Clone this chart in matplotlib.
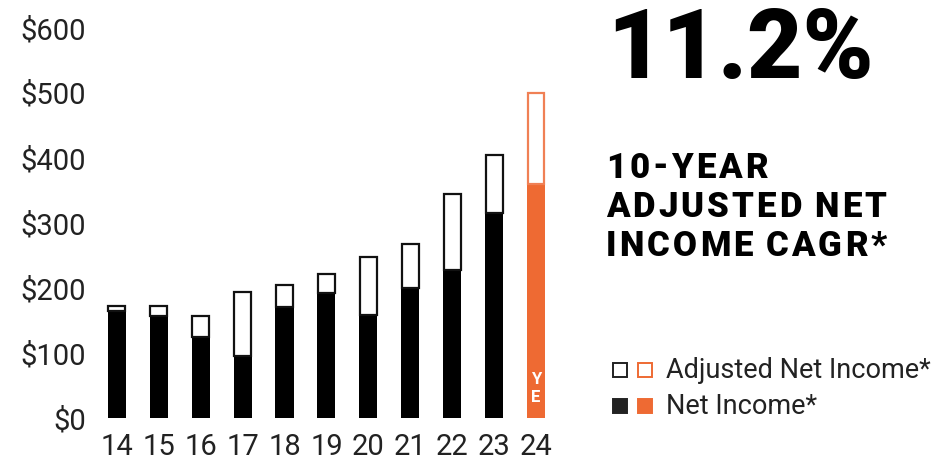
import matplotlib
matplotlib.use("Agg")
import matplotlib.pyplot as plt
from matplotlib.patches import Rectangle

plt.rcParams['font.family'] = ['Roboto', 'DejaVu Sans']

# data (in $ millions)
years = [14, 15, 16, 17, 18, 19, 20, 21, 22, 23, 24]
net_income = [165, 157, 125, 96, 171, 193, 158, 200, 227, 315, 360]
adj_net_income = [172, 172, 157, 194, 204, 222, 247, 267, 345, 405, 500]
y_ticks = [0, 100, 200, 300, 400, 500, 600]
y_labels = ["$%d" % v for v in y_ticks]
title_lines = ["10-YEAR", "ADJUSTED NET", "INCOME CAGR*"]

orange = "#EE6A33"
orange_edge = "#F08055"
text_col = "#222222"

W, H = 944, 461
fig = plt.figure(figsize=(W / 100, H / 100), dpi=100)
ax = fig.add_axes([100 / W, 43 / H, 460 / W, 390 / H])

width = 0.43
for yr, net, adj in zip(years, net_income, adj_net_income):
    fill = orange if yr == 24 else "black"
    edge = orange_edge if yr == 24 else "#111111"
    ax.bar(yr, net, width=width, color=fill, linewidth=0)
    ax.bar(yr, adj - net, bottom=net, width=width - 0.03,
           facecolor="white", edgecolor=edge, linewidth=1.6)

ax.text(24, 45, "Y\nE", color="white", fontsize=12, fontweight="bold",
        ha="center", va="center", linespacing=1.25)

ax.set_xlim(13.6, 24.57)
ax.set_ylim(0, 600)
ax.set_xticks(years)
ax.set_xticklabels([str(y) for y in years])
ax.set_yticks(y_ticks)
ax.set_yticklabels(y_labels)
ax.tick_params(length=0, labelsize=21, colors=text_col, pad=10)
ax.tick_params(axis="x", pad=11)
for s in ax.spines.values():
    s.set_visible(False)

# headline
fig.text(607 / W, 1 - 52 / H, "11.2%", fontsize=69, fontweight="black",
         color="black", ha="left", va="center")

# letter-spaced subtitle, one character at a time
renderer = fig.canvas.get_renderer()
tracking = 3.0  # px between letters
for i, line in enumerate(title_lines):
    x = 606
    y = 1 - (168 + 39 * i) / H
    for ch in line:
        t = fig.text(x / W, y, ch, fontsize=25, fontweight="black",
                     color="black", ha="left", va="center")
        if ch == " ":
            adv = 7
        else:
            adv = t.get_window_extent(renderer).width
        x += adv + tracking

# legend
def sq(x, y, face, edge):
    fig.add_artist(Rectangle((x / W, 1 - y / H), 14 / W, 14 / H,
                             transform=fig.transFigure, facecolor=face,
                             edgecolor=edge, linewidth=1.4))

sq(613, 377, "white", "#222222")
sq(638, 377, "white", orange)
sq(613, 413, "#222222", "#222222")
sq(638, 413, orange, orange)
fig.text(666 / W, 1 - 370 / H, "Adjusted Net Income*", fontsize=19.5,
         color=text_col, ha="left", va="center")
fig.text(666 / W, 1 - 406 / H, "Net Income*", fontsize=19.5,
         color=text_col, ha="left", va="center")

fig.savefig("out.png", dpi=100)
